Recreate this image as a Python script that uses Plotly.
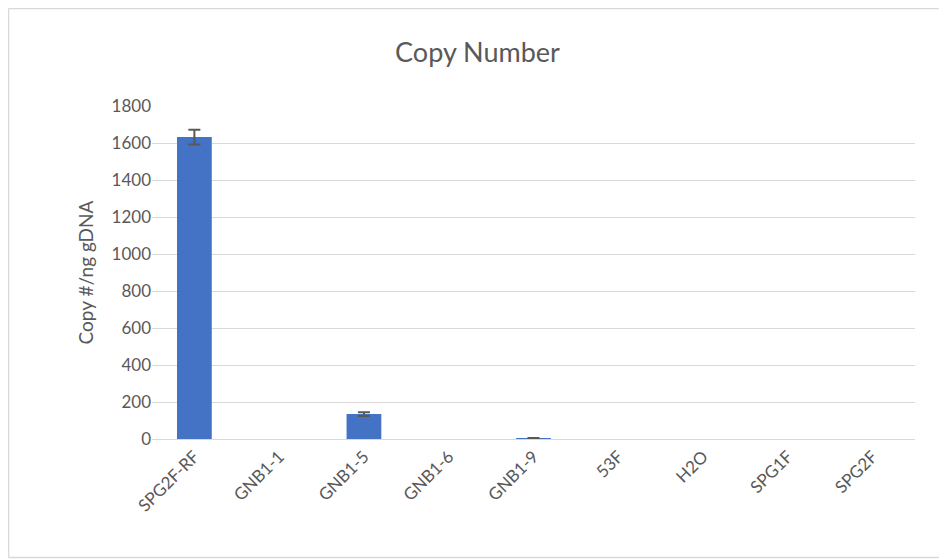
import plotly.graph_objects as go

categories = ["SPG2F-RF", "GNB1-1", "GNB1-5", "GNB1-6", "GNB1-9", "53F", "H2O", "SPG1F", "SPG2F"]
values = [1632, 0, 135, 0, 4, 0, 0, 0, 0]
errors = [40, 0, 10, 0, 2, 0, 0, 0, 0]
y_ticks = [0, 200, 400, 600, 800, 1000, 1200, 1400, 1600, 1800]

font_family = "Lato, 'Open Sans', sans-serif"
gray = "#595959"
border = "#d9d9d9"

err_x = [c for c, e in zip(categories, errors) if e]
err_y = [v for v, e in zip(values, errors) if e]
err_v = [e for e in errors if e]

fig = go.Figure()
fig.add_trace(go.Bar(
    x=categories, y=values,
    marker=dict(color="#4472c4", line=dict(width=0)),
))
fig.add_trace(go.Scatter(
    x=err_x, y=err_y, mode="markers", marker=dict(size=1, opacity=0),
    error_y=dict(type="data", array=err_v, visible=True, color=gray, thickness=2, width=6),
    hoverinfo="skip",
))

xl = (8.5 - 152) / 763
xr = (960 - 152) / 763
yt = 1 + 97.5 / 333
yb = 1 - 451.5 / 333
line_style = dict(color=border, width=1.5)

fig.update_layout(
    width=939, height=551,
    margin=dict(l=144, r=32, t=98, b=120),
    paper_bgcolor="white", plot_bgcolor="white",
    bargap=0.59,
    title=dict(text="Copy Number", x=0.5, xanchor="center", y=0.92, yanchor="middle",
               font=dict(family=font_family, size=27, color=gray)),
    font=dict(family=font_family, color=gray, size=17),
    showlegend=False,
    shapes=[
        dict(type="line", xref="paper", yref="paper", x0=xl, x1=xr, y0=yt, y1=yt, line=line_style, layer="below"),
        dict(type="line", xref="paper", yref="paper", x0=xl, x1=xr, y0=yb, y1=yb, line=line_style, layer="below"),
        dict(type="line", xref="paper", yref="paper", x0=xl, x1=xl, y0=yb, y1=yt, line=line_style, layer="below"),
    ],
)
fig.update_xaxes(tickangle=-45, tickfont=dict(size=17, color=gray), showline=True,
                 linecolor=border, linewidth=1, ticks="", showgrid=False)
fig.update_yaxes(range=[0, 1800], tickvals=y_ticks, showgrid=True, gridcolor=border,
                 gridwidth=1, zeroline=False, showline=False, ticks="", ticklen=0,
                 tickfont=dict(size=17, color=gray),
                 title=dict(text="Copy #/ng gDNA", font=dict(size=19, color=gray), standoff=12))

fig.write_html("out.html")
